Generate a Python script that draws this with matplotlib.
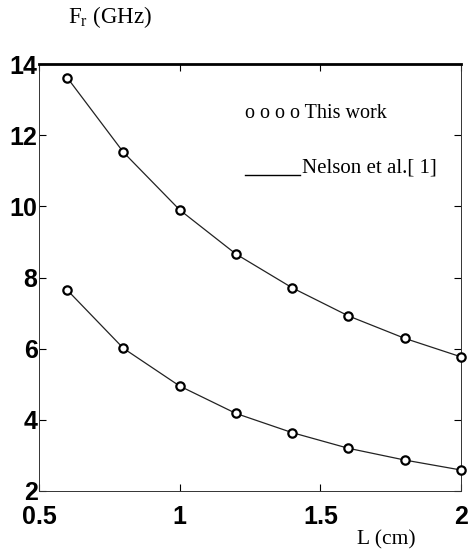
import matplotlib
matplotlib.use("Agg")
import matplotlib.pyplot as plt

# Data
L_cm = [0.6, 0.8, 1.0, 1.2, 1.4, 1.6, 1.8, 2.0]
fr_upper_this_work = [13.62, 11.52, 9.90, 8.66, 7.71, 6.92, 6.29, 5.77]
fr_lower_this_work = [7.65, 6.01, 4.95, 4.18, 3.64, 3.20, 2.87, 2.59]
fr_upper_nelson = [13.62, 11.52, 9.90, 8.66, 7.71, 6.92, 6.29, 5.77]
fr_lower_nelson = [7.65, 6.01, 4.95, 4.18, 3.64, 3.20, 2.87, 2.59]
x_ticks = [0.5, 1, 1.5, 2]
x_tick_labels = ["0.5", "1", "1.5", "2"]
y_ticks = [2, 4, 6, 8, 10, 12, 14]
y_tick_labels = ["2", "4", "6", "8", "10", "12", "14"]

fig = plt.figure(figsize=(4.70, 5.52), dpi=100)
ax = fig.add_axes([39/470, 1 - 491/552, (461 - 39)/470, (491 - 64)/552])

for yl in (fr_upper_nelson, fr_lower_nelson):
    ax.plot(L_cm, yl, color="#222222", lw=0.9, zorder=2)
for yp in (fr_upper_this_work, fr_lower_this_work):
    ax.plot(L_cm, yp, linestyle="none", marker="o", ms=6, mfc="white",
            mec="black", mew=1.6, zorder=3, clip_on=False)

ax.set_xlim(0.5, 2)
ax.set_ylim(2, 14)
ax.set_xticks(x_ticks)
ax.set_xticklabels(x_tick_labels)
ax.set_yticks(y_ticks)
ax.set_yticklabels(y_tick_labels)
ax.tick_params(direction="in", length=5, width=0.8, top=True, right=True,
               labelsize=18)
ax.tick_params(axis="x", pad=10)
ax.tick_params(axis="y", pad=1)
for lab in ax.get_xticklabels() + ax.get_yticklabels():
    lab.set_fontfamily("Liberation Sans")
    lab.set_fontweight("bold")

for side in ("left", "bottom", "right"):
    ax.spines[side].set_linewidth(0.7)
    ax.spines[side].set_color("#333333")
ax.spines["top"].set_linewidth(2.0)
ax.spines["top"].set_color("black")

serif = "Liberation Serif"
fig.text(68/470, 1 - 17/552, r"F$_\mathregular{r}$ (GHz)", family=serif,
         fontsize=16.5, va="center", ha="left")
fig.text(357/470, 1 - 540/552, "L (cm)", family=serif, fontsize=15.5,
         va="center", ha="left")

# custom legend
fig.text(245/470, 1 - 113/552, "o o o o This work", family=serif,
         fontsize=14.5, va="center", ha="left")
fig.add_artist(plt.Line2D([245/470, 300/470], [1 - 175/552, 1 - 175/552],
                          transform=fig.transFigure, color="black", lw=1.0))
fig.text(302/470, 1 - 168/552, "Nelson et al.[ 1]", family=serif,
         fontsize=15, va="center", ha="left")

fig.savefig("out.png", dpi=100)
